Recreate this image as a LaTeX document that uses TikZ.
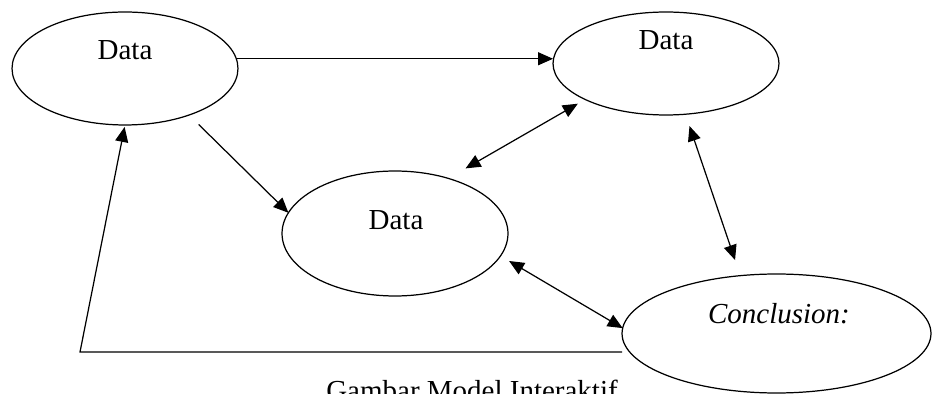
\documentclass[tikz,border=0pt]{standalone}
\usepackage{fontspec}
\setmainfont{Liberation Serif}
\usetikzlibrary{arrows.meta,shapes.geometric}
\begin{document}
\begin{tikzpicture}[x=0.02cm,y=-0.02cm,
  oval/.style={draw,ellipse,line width=0.7pt,inner sep=0pt,outer sep=0pt},
  lbl/.style={anchor=base,inner sep=0pt,font=\fontsize{16.5}{20}\selectfont},
  tip/.style={line width=0.7pt},
  arr/.style={tip,-{Triangle[length=0.3cm,width=0.26cm]}},
  darr/.style={tip,{Triangle[length=0.3cm,width=0.26cm]}-{Triangle[length=0.3cm,width=0.26cm]}}]
\useasboundingbox (0,0) rectangle (932,394);
\clip (0,0) rectangle (932,394);
% ellipses
\node[oval,minimum width=4.52cm,minimum height=2.26cm] (e1) at (125,68.5) {};
\node[oval,minimum width=4.52cm,minimum height=2.06cm] (e2) at (666,63.5) {};
\node[oval,minimum width=4.52cm,minimum height=2.5cm] (e3) at (395,233.5) {};
\node[oval,minimum width=6.18cm,minimum height=2.38cm] (e4) at (776.5,333.5) {};
% labels
\node[lbl] (t1) at (125,60) {Data};
\node[lbl] (t2) at (666,50) {Data};
\node[lbl] (t3) at (396,230) {Data};
\node[lbl] (t4) at (779,324) {\itshape Conclusion:};
\node[lbl] (cap) at (472,400) {Gambar Model Interaktif};
% connectors
\draw[arr] (e1.5) -- (e1.5 -| e2.west);
\draw[arr,shorten <=0.27cm] (e1.-36.5) -- (e3.169.8);
\draw[darr,shorten <=0.4cm,shorten >=0.17cm] (e3.46.4) -- (e2.-156.9);
\draw[darr,shorten <=0.25cm,shorten >=0.33cm] (e2.-69.4) -- (e4.122.8);
\draw[darr,shorten <=0.2cm] (e3.-12) -- (e4.178);
\coordinate (c1) at (80,352);
\draw[arr,shorten >=0.04cm] (e4.west |- c1) -- (c1) -- (e1.south);
\end{tikzpicture}
\end{document}
